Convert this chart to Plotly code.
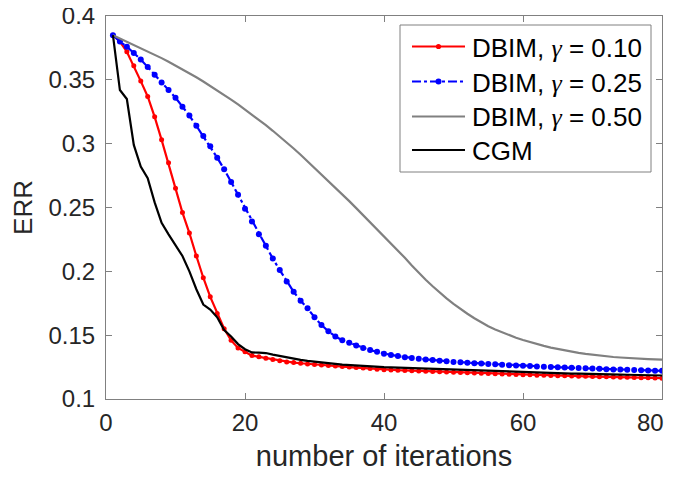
import plotly.graph_objects as go

iterations = list(range(1, 81))

err_dbim_010 = [
    0.385, 0.380, 0.372, 0.361, 0.349, 0.337, 0.321, 0.303, 0.285, 0.265,
    0.246, 0.230, 0.212, 0.195, 0.180, 0.167, 0.155, 0.146, 0.140, 0.137,
    0.134, 0.133, 0.132, 0.131, 0.130, 0.129, 0.1285, 0.128, 0.1275, 0.127,
    0.1266, 0.1262, 0.1258, 0.1254, 0.125, 0.1246, 0.1242, 0.1238, 0.1234, 0.123,
    0.1228, 0.1226, 0.1224, 0.1222, 0.122, 0.1218, 0.1216, 0.1214, 0.1212, 0.121,
    0.1208, 0.1206, 0.1204, 0.1202, 0.120, 0.1198, 0.1196, 0.1194, 0.1192, 0.119,
    0.1189, 0.1187, 0.1186, 0.1185, 0.1183, 0.1182, 0.1181, 0.1179, 0.1178, 0.1177,
    0.1175, 0.1174, 0.1173, 0.1171, 0.117, 0.1169, 0.1167, 0.1166, 0.1165, 0.1163,
]

err_dbim_025 = [
    0.385, 0.380, 0.376, 0.371, 0.366, 0.360, 0.354, 0.348, 0.342, 0.336,
    0.329, 0.322, 0.314, 0.306, 0.298, 0.289, 0.280, 0.270, 0.260, 0.249,
    0.239, 0.229, 0.220, 0.210, 0.201, 0.192, 0.184, 0.177, 0.171, 0.164,
    0.158, 0.153, 0.149, 0.146, 0.144, 0.142, 0.140, 0.1383, 0.137, 0.1355,
    0.1345, 0.1336, 0.1328, 0.1321, 0.1315, 0.131, 0.1305, 0.130, 0.1295, 0.129,
    0.1287, 0.1284, 0.1281, 0.1278, 0.1275, 0.1272, 0.1268, 0.1265, 0.1262, 0.126,
    0.1258, 0.1255, 0.1253, 0.1251, 0.1249, 0.1246, 0.1244, 0.1242, 0.124, 0.1238,
    0.1236, 0.1234, 0.1232, 0.1231, 0.1229, 0.1227, 0.1226, 0.1224, 0.1222, 0.1221,
]

err_dbim_050 = [
    0.3850, 0.3825, 0.3800, 0.3775, 0.3750, 0.3724, 0.3697, 0.3670, 0.3642, 0.3613,
    0.3583, 0.3552, 0.3520, 0.3487, 0.3453, 0.3418, 0.3382, 0.3345, 0.3307, 0.3268,
    0.3228, 0.3187, 0.3145, 0.3101, 0.3056, 0.3010, 0.2962, 0.2913, 0.2862, 0.2810,
    0.2757, 0.2705, 0.2655, 0.2605, 0.2550, 0.2495, 0.2440, 0.2385, 0.2330, 0.2275,
    0.2220, 0.2163, 0.2106, 0.2045, 0.1988, 0.1934, 0.1883, 0.1834, 0.1788, 0.1745,
    0.1705, 0.1668, 0.1633, 0.1600, 0.1570, 0.1545, 0.1522, 0.1500, 0.1480, 0.1462,
    0.1445, 0.1430, 0.1416, 0.1403, 0.1391, 0.1380, 0.1370, 0.1361, 0.1353, 0.1346,
    0.1340, 0.1334, 0.1329, 0.1325, 0.1321, 0.1318, 0.1315, 0.1313, 0.1311, 0.1309,
]

err_cgm = [
    0.385, 0.342, 0.335, 0.299, 0.282, 0.273, 0.254, 0.238, 0.229, 0.221,
    0.212, 0.200, 0.186, 0.174, 0.170, 0.164, 0.154, 0.149, 0.143, 0.139,
    0.1365, 0.1363, 0.136, 0.1348, 0.1336, 0.1325, 0.1315, 0.1306, 0.1298, 0.1291,
    0.1285, 0.128, 0.1275, 0.127, 0.1266, 0.1262, 0.1259, 0.1256, 0.1253, 0.125,
    0.1248, 0.1246, 0.1243, 0.1241, 0.1238, 0.1236, 0.1233, 0.1231, 0.1229, 0.1227,
    0.1225, 0.1223, 0.1221, 0.1219, 0.1217, 0.1215, 0.1213, 0.1211, 0.1209, 0.1207,
    0.1206, 0.1205, 0.1203, 0.1202, 0.1201, 0.120, 0.1199, 0.1198, 0.1196, 0.1195,
    0.1194, 0.1193, 0.1192, 0.1191, 0.119, 0.1189, 0.1188, 0.1186, 0.1185, 0.1184,
]

x_tick_vals = [0, 20, 40, 60, 80]
# the last label is drawn as an annotation nudged left so it stays inside the page
x_tick_text = ["0", "20", "40", "60", ""]
x_last_label = "80"
y_tick_vals = [0.1, 0.15, 0.2, 0.25, 0.3, 0.35, 0.4]
y_tick_text = ["0.1", "0.15", "0.2", "0.25", "0.3", "0.35", "0.4"]

g = "<span style=\"font-family:'Liberation Serif'\"><i>γ</i></span>"
series_names = [f"DBIM, {g} = 0.10", f"DBIM, {g} = 0.25", f"DBIM, {g} = 0.50", "CGM"]
series_colors = ["#ff0000", "#0000ff", "#808080", "#000000"]
series_dash = ["solid", "dashdot", "solid", "solid"]
series_marker = [True, True, False, False]

fig = go.Figure()
fig.add_trace(go.Scatter(x=iterations, y=err_dbim_010, name=series_names[0], mode="lines+markers",
                         line=dict(color=series_colors[0], width=2.2),
                         marker=dict(color=series_colors[0], size=5, symbol="circle")))
fig.add_trace(go.Scatter(x=iterations, y=err_dbim_025, name=series_names[1], mode="lines+markers",
                         line=dict(color=series_colors[1], width=2.2, dash="dashdot"),
                         marker=dict(color=series_colors[1], size=6, symbol="circle")))
fig.add_trace(go.Scatter(x=iterations, y=err_dbim_050, name=series_names[2], mode="lines",
                         line=dict(color=series_colors[2], width=2.2)))
fig.add_trace(go.Scatter(x=iterations, y=err_cgm, name=series_names[3], mode="lines",
                         line=dict(color=series_colors[3], width=2.2)))

# ---- layout geometry (page pixels; the page's 8px body margin is compensated) ----
W, H = 668, 464
ML, MR, MT, MB = 98, 14, 8, 73
PAGE_OFF = 8
plot_x0 = PAGE_OFF + ML
plot_y0 = PAGE_OFF + MT
plot_w = W - ML - MR
plot_h = H - MT - MB


def px(x):
    return (x - plot_x0) / plot_w


def py(y):
    return 1 - (y - plot_y0) / plot_h


# MATLAB-style legend box drawn in paper coordinates
shapes = [dict(type="rect", xref="paper", yref="paper", layer="above",
               x0=px(400), x1=px(651), y0=py(172), y1=py(25),
               line=dict(color="#808080", width=1), fillcolor="white")]
annotations = []
row_y = [46.5, 81.5, 116.5, 150]
for i, name in enumerate(series_names):
    yy = py(row_y[i])
    shapes.append(dict(type="line", xref="paper", yref="paper", layer="above",
                       x0=px(412), x1=px(465), y0=yy, y1=yy,
                       line=dict(color=series_colors[i], width=2.2, dash=series_dash[i])))
    if series_marker[i]:
        r = 2.6 if i == 0 else 3.0
        shapes.append(dict(type="circle", xref="paper", yref="paper", layer="above",
                           x0=px(438.5 - r), x1=px(438.5 + r),
                           y0=py(row_y[i] + r), y1=py(row_y[i] - r),
                           line=dict(color=series_colors[i], width=0),
                           fillcolor=series_colors[i]))
    annotations.append(dict(xref="paper", yref="paper", x=px(470), y=py(row_y[i] + 1),
                            xanchor="left", yanchor="middle", showarrow=False,
                            text=name,
                            font=dict(family="Liberation Sans", size=26, color="#000000")))

# last x tick label, kept inside the visible page
annotations.append(dict(xref="x", yref="paper", x=x_tick_vals[-1], y=py(422),
                        xanchor="center", yanchor="middle", xshift=-12, showarrow=False,
                        text=x_last_label,
                        font=dict(family="Liberation Sans", size=24, color="#262626")))

axis_common = dict(showline=True, linecolor="#808080", linewidth=1, mirror="ticks",
                   ticks="inside", ticklen=6, tickcolor="#808080", tickwidth=1,
                   showgrid=False, zeroline=False, ticklabeloverflow="allow",
                   automargin=False,
                   tickfont=dict(family="Liberation Sans", size=24, color="#262626"))

fig.update_layout(
    width=W, height=H,
    margin=dict(l=ML, r=MR, t=MT, b=MB, autoexpand=False),
    plot_bgcolor="white", paper_bgcolor="white",
    font=dict(family="Liberation Sans", color="#262626"),
    xaxis=dict(range=[0, 80], tickvals=x_tick_vals, ticktext=x_tick_text,
               ticklabelstandoff=2,
               title=dict(text="number of iterations", font=dict(size=29), standoff=14),
               **axis_common),
    yaxis=dict(range=[0.1, 0.4], tickvals=y_tick_vals, ticktext=y_tick_text,
               ticklabelstandoff=5,
               title=dict(text="ERR", font=dict(size=26), standoff=10),
               **axis_common),
    showlegend=False,
    shapes=shapes,
    annotations=annotations,
)

fig.write_html("out.html")
